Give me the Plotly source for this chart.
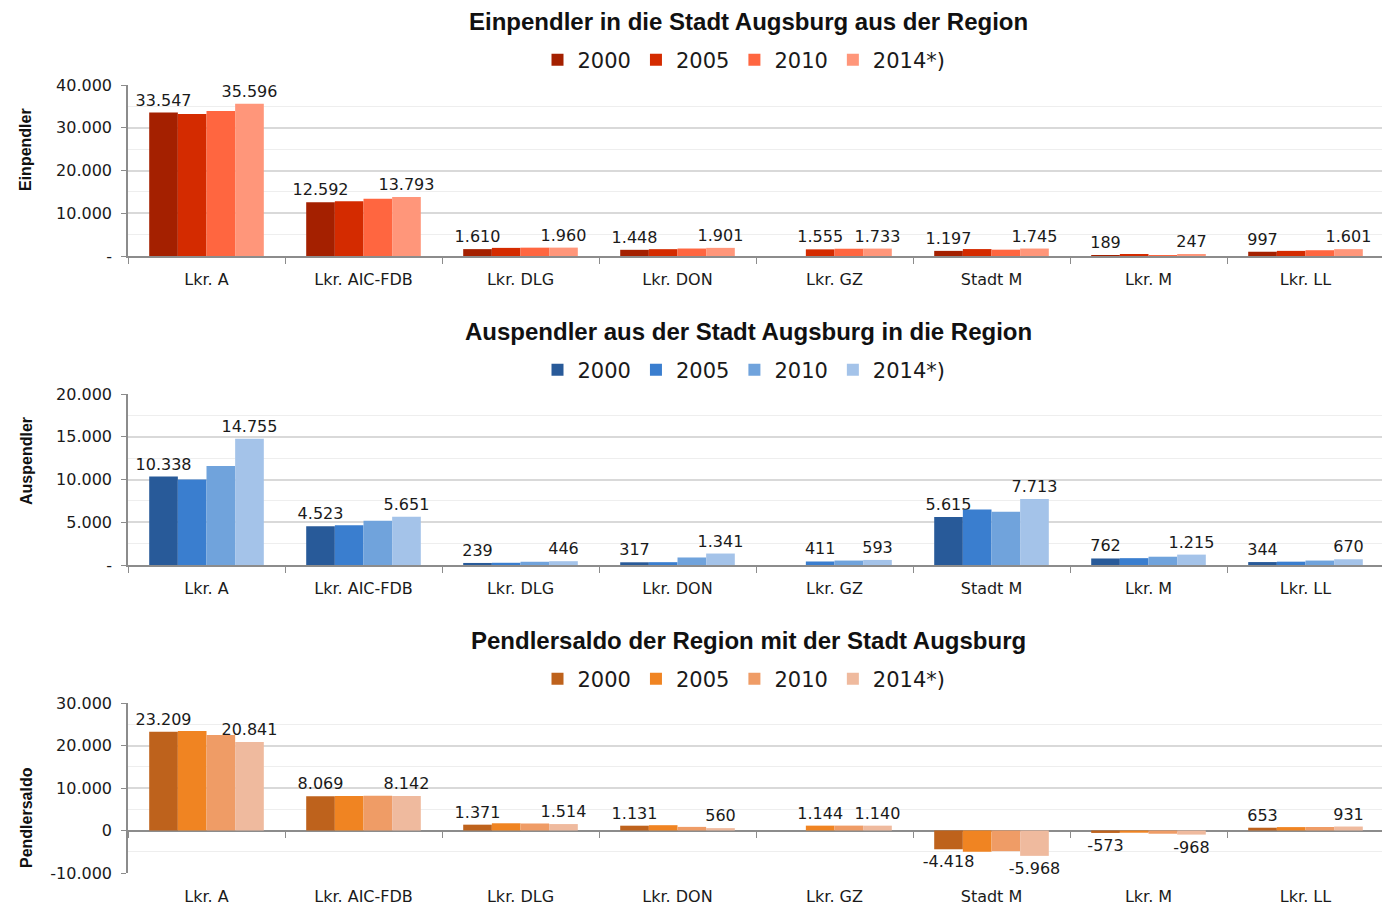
import plotly.graph_objects as go

categories = ["Lkr. A", "Lkr. AIC-FDB", "Lkr. DLG", "Lkr. DON", "Lkr. GZ", "Stadt M", "Lkr. M", "Lkr. LL"]
years = ["2000", "2005", "2010", "2014*)"]

# Einpendler in die Stadt Augsburg aus der Region
ein_2000 = [33547, 12592, 1610, 1448, None, 1197, 189, 997]
ein_2005 = [33200, 12800, 1900, 1600, 1555, 1620, 300, 1200]
ein_2010 = [33900, 13400, 1950, 1750, 1700, 1480, 220, 1350]
ein_2014 = [35596, 13793, 1960, 1901, 1733, 1745, 247, 1601]

# Auspendler aus der Stadt Augsburg in die Region
aus_2000 = [10338, 4523, 239, 317, None, 5615, 762, 344]
aus_2005 = [10000, 4640, 260, 330, 411, 6500, 800, 390]
aus_2010 = [11580, 5180, 380, 880, 520, 6240, 970, 520]
aus_2014 = [14755, 5651, 446, 1341, 593, 7713, 1215, 670]

# Pendlersaldo der Region mit der Stadt Augsburg
sal_2000 = [23209, 8069, 1371, 1131, None, -4418, -573, 653]
sal_2005 = [23400, 8100, 1700, 1250, 1144, -5000, -520, 800]
sal_2010 = [22500, 8150, 1650, 850, 1150, -4860, -760, 830]
sal_2014 = [20841, 8142, 1514, 560, 1140, -5968, -968, 931]

ein_colors = ["#A42000", "#D42B00", "#FF6640", "#FF967A"]
aus_colors = ["#285A99", "#3A7ECF", "#70A3DC", "#A4C3E9"]
sal_colors = ["#BE621C", "#F08422", "#EF9C66", "#EFBA9E"]

charts = [
    dict(title="Einpendler in die Stadt Augsburg aus der Region", ytitle="Einpendler",
         series=[ein_2000, ein_2005, ein_2010, ein_2014], colors=ein_colors,
         yrange=[0, 40000], tickvals=[0, 10000, 20000, 30000, 40000],
         ticktext=["-", "10.000", "20.000", "30.000", "40.000"],
         dom=[85, 256], title_y=22, legend_y=60, ytitle_y=150),
    dict(title="Auspendler aus der Stadt Augsburg in die Region", ytitle="Auspendler",
         series=[aus_2000, aus_2005, aus_2010, aus_2014], colors=aus_colors,
         yrange=[0, 20000], tickvals=[0, 5000, 10000, 15000, 20000],
         ticktext=["-", "5.000", "10.000", "15.000", "20.000"],
         dom=[394, 565], title_y=331, legend_y=370, ytitle_y=461),
    dict(title="Pendlersaldo der Region mit der Stadt Augsburg", ytitle="Pendlersaldo",
         series=[sal_2000, sal_2005, sal_2010, sal_2014], colors=sal_colors,
         yrange=[-10000, 30000], tickvals=[-10000, 0, 10000, 20000, 30000],
         ticktext=["-10.000", "0", "10.000", "20.000", "30.000"],
         dom=[703, 873], title_y=640, legend_y=679, ytitle_y=818),
]

OFF = 8  # default page body margin
W, H = 1390 - OFF, 906 - OFF
X0, X1 = 128 - OFF, 1384 - OFF
SMALL = dict(family="DejaVu Sans", size=16, color="#1a1a1a")
BOLD = "Liberation Sans"

fig = go.Figure()
layout = dict(
    width=W, height=H, margin=dict(l=0, r=0, t=0, b=0, autoexpand=False),
    paper_bgcolor="white", plot_bgcolor="white",
    separators=",.", barmode="group", bargap=0.27, bargroupgap=0,
    showlegend=True, annotations=[],
)


def yfrac(py):
    return 1 - (py - OFF) / H


def xfrac(px):
    return (px - OFF) / W


for ci, ch in enumerate(charts):
    n = ci + 1
    xa = "x" if n == 1 else f"x{n}"
    ya = "y" if n == 1 else f"y{n}"
    lg = "legend" if n == 1 else f"legend{n}"
    s2000 = ch["series"][0]
    for si, (vals, col, yr) in enumerate(zip(ch["series"], ch["colors"], years)):
        tt = []
        for k, v in enumerate(vals):
            show = False
            if si == 3:
                show = True
            elif si == 0 and s2000[k] is not None:
                show = True
            elif si == 1 and s2000[k] is None:
                show = True
            tt.append("%{y:,.0f}" if (show and v is not None) else "")
        fig.add_trace(go.Bar(
            x=categories, y=vals, name=yr, marker=dict(color=col, line=dict(width=0)),
            texttemplate=tt, textposition="outside", constraintext="none",
            textfont=SMALL, cliponaxis=False, xaxis=xa, yaxis=ya, legend=lg,
            hoverinfo="skip",
        ))
    dom = [yfrac(ch["dom"][1]), yfrac(ch["dom"][0])]
    xkey = "xaxis" if n == 1 else f"xaxis{n}"
    ykey = "yaxis" if n == 1 else f"yaxis{n}"
    is_saldo = ch["yrange"][0] < 0
    layout[xkey] = dict(
        domain=[X0 / W, X1 / W], anchor=ya, type="category", automargin=False,
        categoryorder="array", categoryarray=categories,
        tickson="boundaries", ticks="" if is_saldo else "outside", ticklen=6,
        tickcolor="#8c8c8c", showline=not is_saldo, linecolor="#8c8c8c", linewidth=1.5,
        showgrid=False, tickfont=SMALL, fixedrange=True,
        ticklabelstandoff=12 if is_saldo else 8,
    )
    layout[ykey] = dict(
        domain=dom, anchor=xa, range=ch["yrange"], tickvals=ch["tickvals"], automargin=False,
        ticktext=ch["ticktext"], tickfont=SMALL, ticks="outside", ticklen=5,
        tickcolor="#8c8c8c", showline=True, linecolor="#8c8c8c", linewidth=1.5,
        showgrid=True, gridcolor="#d9d9d9", gridwidth=1.5,
        minor=dict(dtick=ch["tickvals"][1] - ch["tickvals"][0], tick0=ch["yrange"][0] + (ch["tickvals"][1] - ch["tickvals"][0]) / 2,
                   showgrid=True, gridcolor="#eeeeee", gridwidth=1),
        zeroline=is_saldo, zerolinecolor="#8c8c8c", zerolinewidth=1.5,
        ticklabelstandoff=6, fixedrange=True,
    )
    if is_saldo:
        y0, y1 = ch["yrange"]
        zero_pos = dom[0] + (0 - y0) / (y1 - y0) * (dom[1] - dom[0])
        layout["xaxis4"] = dict(
            overlaying=xa, anchor="free", position=zero_pos, range=[-0.5, len(categories) - 0.5],
            tickvals=[i - 0.5 for i in range(len(categories) + 1)], showticklabels=False,
            ticks="outside", ticklen=6, tickcolor="#8c8c8c", showline=False, showgrid=False,
            zeroline=False, fixedrange=True, automargin=False,
        )
        fig.add_trace(go.Scatter(x=[], y=[], xaxis="x4", yaxis=ya, showlegend=False,
                                 hoverinfo="skip"))
    layout[lg] = dict(
        orientation="h", x=xfrac(744), xanchor="center", y=yfrac(ch["legend_y"]), yanchor="middle",
        font=dict(family="DejaVu Sans", size=21, color="#1a1a1a"), bgcolor="rgba(0,0,0,0)",
        itemclick=False, itemdoubleclick=False, traceorder="normal", itemwidth=30,
    )
    layout["annotations"].append(dict(
        text=f"<b>{ch['title']}</b>", x=xfrac(748), y=yfrac(ch["title_y"]), xref="paper", yref="paper",
        xanchor="center", yanchor="middle", showarrow=False,
        font=dict(family=BOLD, size=24, color="#111111"),
    ))
    layout["annotations"].append(dict(
        text=f"<b>{ch['ytitle']}</b>", x=xfrac(26), y=yfrac(ch["ytitle_y"]), xref="paper", yref="paper",
        xanchor="center", yanchor="middle", showarrow=False, textangle=-90,
        font=dict(family=BOLD, size=16, color="#111111"),
    ))

fig.update_layout(**layout)
fig.write_html("out.html")
